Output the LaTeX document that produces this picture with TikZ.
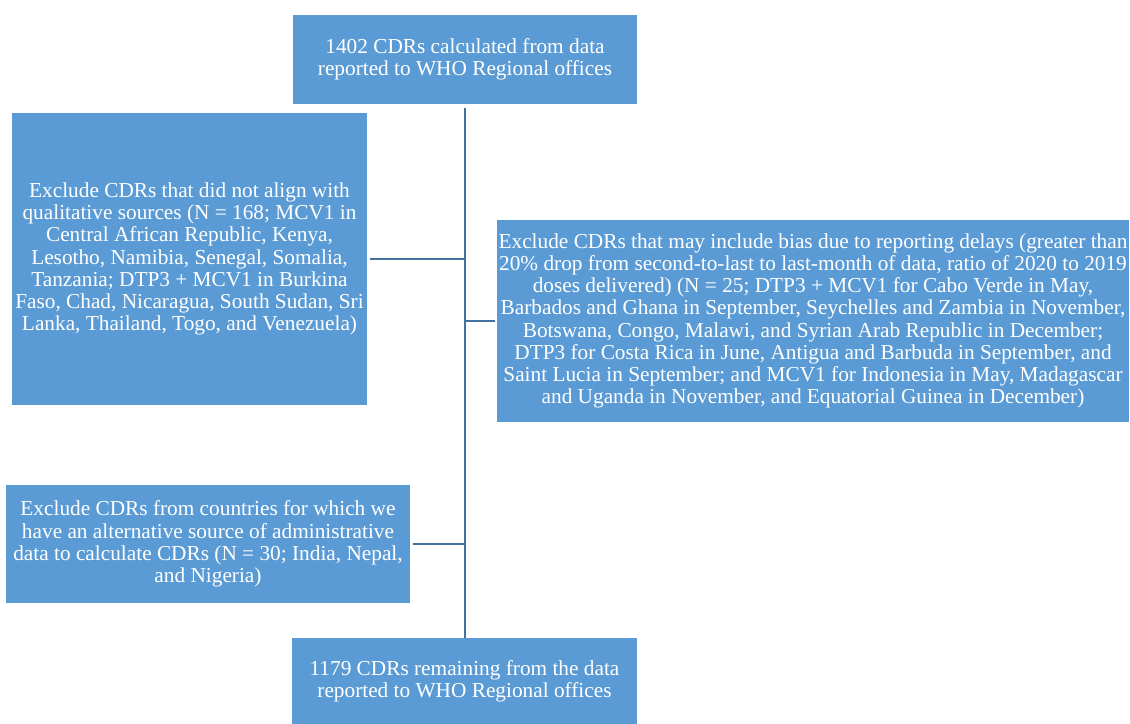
\documentclass[tikz,border=0pt]{standalone}
\usepackage{fontspec}
\setmainfont{Liberation Serif}
\usepackage{tikz}
\definecolor{boxblue}{HTML}{5B9BD5}
\definecolor{linkblue}{HTML}{41719C}
\tikzset{
    flowbox/.style={fill=boxblue, draw=none, text=white, align=center, inner sep=0pt,
        font=\fontsize{21.3}{22.2}\selectfont},
    link/.style={draw=linkblue, line width=2.8pt}
}

\begin{document}
\begin{tikzpicture}[x=1pt, y=-1pt]
    \useasboundingbox (0, 0) rectangle (1130, 723);
    \node[flowbox, minimum width=344, minimum height=89] (start) at (465, 59.5)
        {1402 CDRs calculated from data\\reported to WHO Regional offices};
    \node[flowbox, minimum width=355, minimum height=292] (qual) at (189.5, 259)
        {Exclude CDRs that did not align with\\qualitative sources (N = 168; MCV1 in\\Central African Republic, Kenya,\\Lesotho, Namibia, Senegal, Somalia,\\Tanzania; DTP3 + MCV1 in Burkina\\Faso, Chad, Nicaragua, South Sudan, Sri\\Lanka, Thailand, Togo, and Venezuela)};
    \node[flowbox, minimum width=632, minimum height=202] (delay) at (813, 321)
        {Exclude CDRs that may include bias due to reporting delays (greater than\\20\% drop from second-to-last to last-month of data, ratio of 2020 to 2019\\doses delivered) (N = 25; DTP3 + MCV1 for Cabo Verde in May,\\Barbados and Ghana in September, Seychelles and Zambia in November,\\Botswana, Congo, Malawi, and Syrian Arab Republic in December;\\DTP3 for Costa Rica in June, Antigua and Barbuda in September, and\\Saint Lucia in September; and MCV1 for Indonesia in May, Madagascar\\and Uganda in November, and Equatorial Guinea in December)};
    \node[flowbox, minimum width=404, minimum height=118] (alt) at (208, 544)
        {Exclude CDRs from countries for which we\\have an alternative source of administrative\\data to calculate CDRs (N = 30; India, Nepal,\\and Nigeria)};
    \node[flowbox, minimum width=345, minimum height=86] (final) at (464.5, 681)
        {1179 CDRs remaining from the data\\reported to WHO Regional offices};
    % trunk and branches
    \coordinate (trunk) at (465, 108);
    \draw[link] (trunk) -- (trunk |- final.north);
    \draw[link, shorten <=3pt] (qual.east) -- (qual.east -| trunk);
    \draw[link, shorten >=2pt] (delay.west -| trunk) -- (delay.west);
    \draw[link, shorten <=3pt] (alt.east) -- (alt.east -| trunk);
\end{tikzpicture}
\end{document}
